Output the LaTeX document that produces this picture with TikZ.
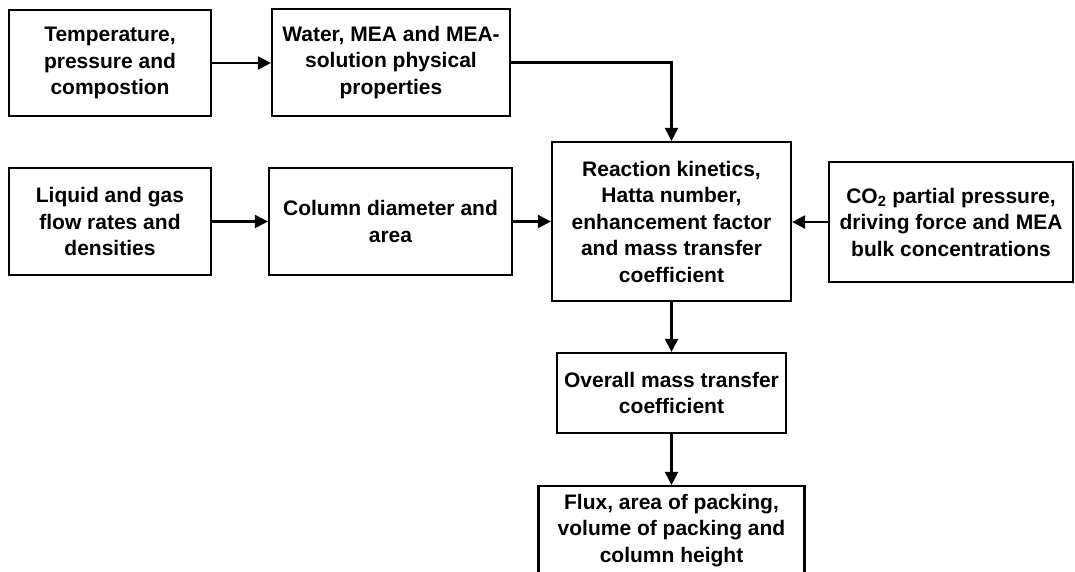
\documentclass[tikz,border=0pt]{standalone}
\usepackage{fontspec}
\setmainfont{Liberation Sans}
\usetikzlibrary{arrows.meta}
\begin{document}
\begin{tikzpicture}[x=1pt,y=-1pt,
  box/.style={draw, line width=2.2pt, align=center, inner sep=0pt,
    font=\fontsize{21}{26.5}\selectfont\bfseries},
  arr/.style={line width=2.2pt, -{Triangle[length=13pt,width=13pt]}}]
\clip (0,0) rectangle (1075,571);
\useasboundingbox (0,0) rectangle (1075,571);
\node[box, minimum width=202pt, minimum height=106pt] (a) at (110,63)
  {Temperature,\\pressure and\\compostion};
\node[box, minimum width=238pt, minimum height=107pt] (b) at (391,62.5)
  {Water, MEA and MEA-\\solution physical\\properties};
\node[box, minimum width=202pt, minimum height=107pt] (c) at (110,221.5)
  {Liquid and gas\\flow rates and\\densities};
\node[box, minimum width=243pt, minimum height=107pt] (d) at (390.5,221.5)
  {Column diameter and\\area};
\node[box, minimum width=239pt, minimum height=159pt] (e) at (671.5,221.5)
  {Reaction kinetics,\\Hatta number,\\enhancement factor\\and mass transfer\\coefficient};
\node[box, minimum width=244pt, minimum height=120pt] (f) at (951,222)
  {CO\textsubscript{2} partial pressure,\\driving force and MEA\\bulk concentrations};
\node[box, minimum width=229pt, minimum height=80pt] (g) at (671.5,393)
  {Overall mass transfer\\coefficient};
\node[box, minimum width=266pt, minimum height=89pt] (h) at (671.5,530.5)
  {Flux, area of packing,\\volume of packing and\\column height};
\draw[arr] (a.east) -- (a.east -| b.west);
\draw[arr] (b.east) -| (e.north);
\draw[arr] (c.east) -- (c.east -| d.west);
\draw[arr] (d.east) -- (d.east -| e.west);
\draw[arr] (f.west) -- (f.west -| e.east);
\draw[arr] (e.south) -- (g.north);
\draw[arr] (g.south) -- (h.north);
\end{tikzpicture}
\end{document}
